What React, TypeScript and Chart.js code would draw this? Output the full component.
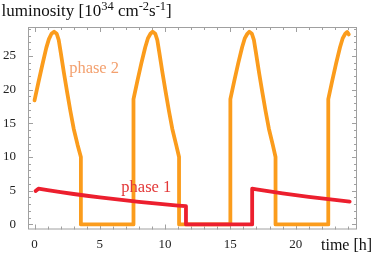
import { useEffect, useRef } from "react";
import { Chart, registerables } from "chart.js";

Chart.register(...registerables);

const FONT = "'Liberation Serif', 'Times New Roman', serif";

const xTicks = [0, 5, 10, 15, 20];
const yTicks = [0, 5, 10, 15, 20, 25];

// phase 2 (orange) luminosity vs time
const phase2Times = [
  0, 0.3, 0.6, 0.9, 1.1, 1.3, 1.5, 1.7, 1.85, 2.0, 2.25, 2.5, 2.75, 3.0, 3.3, 3.55, 3.55,
  7.58, 7.58, 7.88, 8.18, 8.48, 8.68, 8.88, 9.05, 9.25, 9.4, 9.55, 9.8, 10.05, 10.3, 10.55, 10.85, 11.07, 11.07,
  15.0, 15.0, 15.3, 15.6, 15.9, 16.1, 16.3, 16.45, 16.65, 16.8, 16.95, 17.2, 17.45, 17.7, 17.95, 18.25, 18.46, 18.46,
  22.5, 22.5, 22.8, 23.1, 23.4, 23.6, 23.8, 23.95, 24.07,
];
const phase2Lum = [
  18.4, 21.1, 23.7, 26.2, 27.5, 28.3, 28.6, 28.3, 27.4, 25.6, 22.5, 19.6, 16.8, 14.2, 11.8, 10.0, 0,
  0, 18.6, 21.3, 23.9, 26.3, 27.6, 28.3, 28.6, 28.3, 27.4, 25.6, 22.5, 19.6, 16.8, 14.2, 11.8, 10.0, 0,
  0, 18.6, 21.3, 23.9, 26.3, 27.6, 28.3, 28.6, 28.3, 27.4, 25.6, 22.5, 19.6, 16.8, 14.2, 11.8, 10.0, 0,
  0, 18.6, 21.3, 23.9, 26.3, 27.6, 28.3, 28.55, 28.2,
];

// phase 1 (red) luminosity vs time
const phase1Times = [
  0.08, 0.3, 1, 2, 3, 4, 5, 6, 7, 8, 9, 10, 11, 11.6, 11.6,
  16.67, 16.67, 17, 18, 19, 20, 21, 22, 23, 24.14,
];
const phase1Lum = [
  4.95, 5.3, 5.08, 4.79, 4.51, 4.25, 4.0, 3.77, 3.55, 3.35, 3.15, 2.97, 2.8, 2.7, 0,
  0, 5.3, 5.2, 4.9, 4.61, 4.34, 4.09, 3.85, 3.63, 3.39,
];

const toPoints = (xs: number[], ys: number[]) => xs.map((x, i) => ({ x, y: ys[i] }));

const framePlugin = {
  id: "frameTicks",
  beforeDatasetsDraw(chart: any) {
    const { ctx, chartArea: a, scales } = chart;
    const xs = scales.x;
    const ys = scales.y;
    ctx.save();
    ctx.strokeStyle = "#a0a0a0";
    ctx.lineWidth = 1;
    ctx.strokeRect(a.left + 0.5, a.top + 0.5, a.right - a.left - 1, a.bottom - a.top - 1);
    ctx.beginPath();
    for (let v = 0; v <= 24; v++) {
      const px = Math.round(xs.getPixelForValue(v)) + 0.5;
      const len = v % 5 === 0 ? 5 : 3;
      ctx.moveTo(px, a.bottom);
      ctx.lineTo(px, a.bottom - len);
      ctx.moveTo(px, a.top);
      ctx.lineTo(px, a.top + len);
    }
    for (let v = 0; v <= 29; v++) {
      const py = Math.round(ys.getPixelForValue(v)) + 0.5;
      const len = v % 5 === 0 ? 5 : 3;
      ctx.moveTo(a.left, py);
      ctx.lineTo(a.left + len, py);
      ctx.moveTo(a.right, py);
      ctx.lineTo(a.right - len, py);
    }
    ctx.stroke();
    ctx.restore();
  },
};

const textPlugin = {
  id: "texts",
  afterDraw(chart: any) {
    const { ctx, scales } = chart;
    ctx.save();
    ctx.textBaseline = "alphabetic";
    ctx.textAlign = "left";
    // title with superscripts
    const parts: [string, boolean][] = [
      ["luminosity [10", false],
      ["34", true],
      [" cm", false],
      ["-2", true],
      ["s", false],
      ["-1", true],
      ["]", false],
    ];
    let x = 1.5;
    const base = 15.5;
    ctx.fillStyle = "#111";
    for (const [t, sup] of parts) {
      ctx.font = sup ? `12.5px ${FONT}` : `17px ${FONT}`;
      ctx.fillText(t, x, sup ? base - 6 : base);
      x += ctx.measureText(t).width;
    }
    // x axis title
    ctx.font = `16px ${FONT}`;
    ctx.fillText("time [h]", 321, 250);
    // phase labels
    ctx.font = `16.5px ${FONT}`;
    ctx.fillStyle = "#f3a06e";
    ctx.fillText("phase 2", scales.x.getPixelForValue(2.65), scales.y.getPixelForValue(22.4));
    ctx.fillStyle = "#e33838";
    ctx.fillText("phase 1", scales.x.getPixelForValue(6.65), scales.y.getPixelForValue(4.75));
    ctx.restore();
  },
};

export default function App() {
  const ref = useRef<HTMLCanvasElement>(null);
  useEffect(() => {
    document.body.style.margin = "0";
    const chart = new Chart(ref.current!, {
      type: "line",
      data: {
        datasets: [
          {
            label: "phase 1",
            data: toPoints(phase1Times, phase1Lum),
            borderColor: "#ec1f2e",
            borderWidth: 3.8,
            pointRadius: 0,
            tension: 0,
            borderJoinStyle: "round",
            borderCapStyle: "round",
          },
          {
            label: "phase 2",
            data: toPoints(phase2Times, phase2Lum),
            borderColor: "#fb9c1c",
            borderWidth: 3.8,
            pointRadius: 0,
            tension: 0,
            borderJoinStyle: "round",
            borderCapStyle: "round",
          },
        ],
      },
      options: {
        responsive: false,
        animation: false,
        layout: { padding: { left: 0, right: 17, top: 27, bottom: 0 } },
        plugins: { legend: { display: false }, tooltip: { enabled: false }, title: { display: false } },
        scales: {
          x: {
            type: "linear",
            min: -0.5,
            max: 24.7,
            grid: { display: false, drawTicks: false },
            border: { display: false },
            ticks: { color: "#222", font: { family: FONT, size: 13 }, padding: 7, maxRotation: 0 },
            afterBuildTicks: (s: any) => {
              s.ticks = xTicks.map((v) => ({ value: v }));
            },
            afterFit: (s: any) => {
              s.height = 25.5;
            },
          },
          y: {
            type: "linear",
            min: -0.76,
            max: 29.3,
            grid: { display: false, drawTicks: false },
            border: { display: false },
            ticks: { color: "#222", font: { family: FONT, size: 13 }, padding: 12 },
            afterBuildTicks: (s: any) => {
              s.ticks = yTicks.map((v) => ({ value: v }));
            },
            afterFit: (s: any) => {
              s.width = 28;
            },
          },
        },
      },
      plugins: [framePlugin, textPlugin],
    } as any);
    return () => chart.destroy();
  }, []);
  return (
    <div style={{ width: 374, height: 255 }}>
      <canvas ref={ref} width={374} height={255} style={{ display: "block" }} />
    </div>
  );
}
